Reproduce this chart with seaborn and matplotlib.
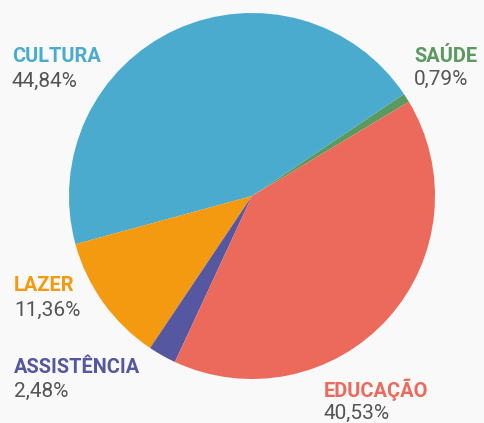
import matplotlib
matplotlib.use("Agg")
import matplotlib.pyplot as plt
import seaborn as sns

# Spending shares by area (percent)
categories = ["SAÚDE", "CULTURA", "LAZER", "ASSISTÊNCIA", "EDUCAÇÃO"]
shares = [0.79, 44.84, 11.36, 2.48, 40.53]
share_labels = ["0,79%", "44,84%", "11,36%", "2,48%", "40,53%"]
colors = ["#5a9a5e", "#4babcf", "#f39a10", "#5557a0", "#ec6a5c"]

sns.set_theme(style="white")
plt.rcParams["font.family"] = ["Roboto", "DejaVu Sans"]

W, H = 484, 423
bg = "#f9f9f9"
fig = plt.figure(figsize=(W / 100, H / 100), dpi=100, facecolor=bg)
ax = fig.add_axes([0, 0, 1, 1])
ax.set_facecolor(bg)

ax.pie(shares, colors=colors, startangle=31, counterclock=True,
       center=(252, H - 196), radius=183,
       wedgeprops=dict(linewidth=0))

ax.set_xlim(0, W)
ax.set_ylim(0, H)
ax.set_aspect("equal")
ax.axis("off")

# Label placement: (x, title baseline, value baseline) in pixels from top
label_pos = {
    "CULTURA": (12, 62, 87),
    "SAÚDE": (414, 62, 85),
    "LAZER": (14, 291, 316),
    "ASSISTÊNCIA": (14, 373, 397),
    "EDUCAÇÃO": (324, 397, 419),
}

for cat, lab, col in zip(categories, share_labels, colors):
    x, y1, y2 = label_pos[cat]
    ax.text(x, H - y1, cat, color=col, fontsize=14.4, fontweight="bold",
            ha="left", va="baseline")
    ax.text(x, H - y2, lab, color="#555555", fontsize=15,
            ha="left", va="baseline")

fig.savefig("out.png", dpi=100, facecolor=bg)
